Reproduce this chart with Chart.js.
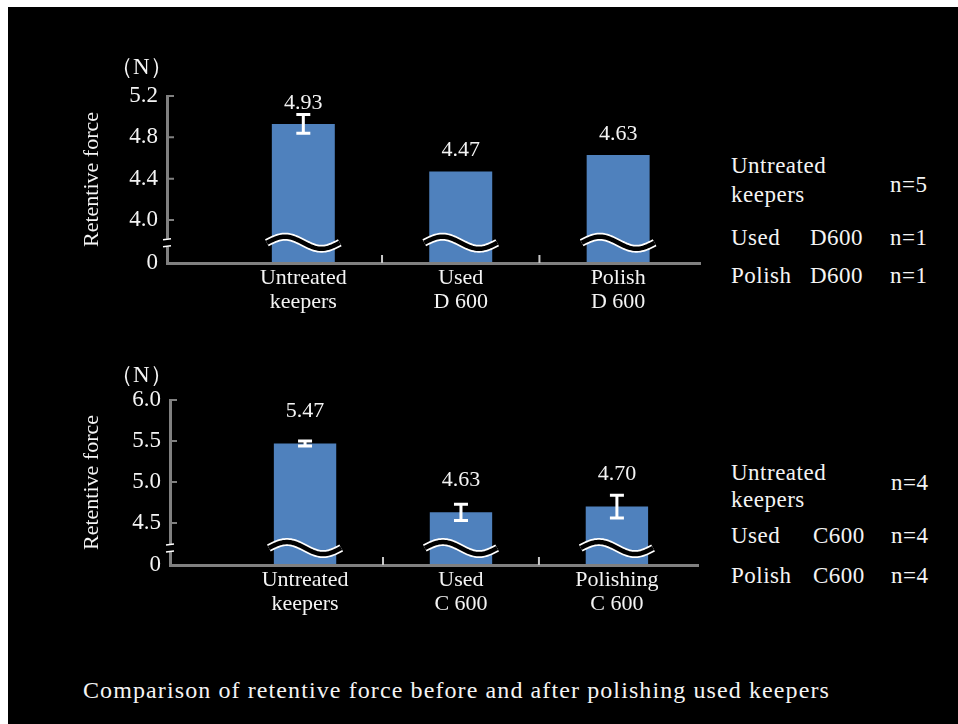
<!DOCTYPE html>
<html>
<head>
<meta charset="utf-8">
<script src="https://cdn.jsdelivr.net/npm/chart.js@4"></script>
<style>
  body { margin: 0; background: #fff; font-family: "Liberation Serif", serif; }
  #frame { position: absolute; left: 8px; top: 7px; width: 950px; height: 717px; background: #000; }
  canvas { position: absolute; left: 0; }
  .t { position: absolute; color: #f4f4f4; font-size: 23px; line-height: 24px; letter-spacing: 0.5px; white-space: nowrap; }
  .unit { font-size: 23px; letter-spacing: 0; }
  #caption { font-size: 24px; letter-spacing: 1.1px; }
</style>
</head>
<body>
<div id="frame"></div>
<canvas id="topChart" width="720" height="340" style="top:0"></canvas>
<canvas id="bottomChart" width="720" height="330" style="top:330px"></canvas>

<div class="t unit" style="left:110px; top:55px">（N）</div>
<div class="t unit" style="left:110px; top:363px">（N）</div>

<div class="t" style="left:731px; top:154px">Untreated</div>
<div class="t" style="left:731px; top:183px">keepers</div>
<div class="t" style="left:890px; top:173px">n=5</div>
<div class="t" style="left:731px; top:226px">Used</div>
<div class="t" style="left:810px; top:226px">D600</div>
<div class="t" style="left:890px; top:226px">n=1</div>
<div class="t" style="left:731px; top:264px">Polish</div>
<div class="t" style="left:810px; top:264px">D600</div>
<div class="t" style="left:890px; top:264px">n=1</div>

<div class="t" style="left:731px; top:461px">Untreated</div>
<div class="t" style="left:731px; top:488px">keepers</div>
<div class="t" style="left:891px; top:471px">n=4</div>
<div class="t" style="left:731px; top:524px">Used</div>
<div class="t" style="left:813px; top:524px">C600</div>
<div class="t" style="left:891px; top:524px">n=4</div>
<div class="t" style="left:731px; top:564px">Polish</div>
<div class="t" style="left:813px; top:564px">C600</div>
<div class="t" style="left:891px; top:564px">n=4</div>

<div class="t" id="caption" style="left:83px; top:678px">Comparison of retentive force before and after polishing used keepers</div>

<script>
// D600 keepers
const categoriesTop = [['Untreated', 'keepers'], ['Used', 'D 600'], ['Polish', 'D 600']];
const forceTop = [4.93, 4.47, 4.63];
const errorTop = [0.09, 0, 0];
const ticksTop = [4.0, 4.4, 4.8, 5.2];

// C600 keepers
const categoriesBottom = [['Untreated', 'keepers'], ['Used', 'C 600'], ['Polishing', 'C 600']];
const forceBottom = [5.47, 4.63, 4.70];
const errorBottom = [0.03, 0.10, 0.14];
const ticksBottom = [4.5, 5.0, 5.5, 6.0];

const TEXT = '#f4f4f4';
const AXIS = '#808080';
const BAR = '#4f81bd';
const SERIF = '"Liberation Serif", "Times New Roman", serif';

// wavy break across bars, error bars, value labels, inward ticks, axis break mark
const decor = {
  id: 'decor',
  afterDatasetsDraw(chart, args, opts) {
    const { ctx } = chart;
    const y = chart.scales.y;
    const values = chart.data.datasets[0].data;
    const cy = y.getPixelForValue(opts.breakAt);
    ctx.save();
    chart.getDatasetMeta(0).data.forEach((bar, i) => {
      const v = values[i].y;
      const half = bar.width / 2 + 5;
      const wave = () => {
        ctx.beginPath();
        for (let k = 0; k <= 50; k++) {
          const t = k / 50;
          const px = bar.x - half + 2 * half * t;
          const py = cy - 6 * Math.sin(2 * Math.PI * t);
          k === 0 ? ctx.moveTo(px, py) : ctx.lineTo(px, py);
        }
      };
      wave(); ctx.strokeStyle = '#fff'; ctx.lineWidth = 8; ctx.stroke();
      wave(); ctx.strokeStyle = '#000'; ctx.lineWidth = 4.5; ctx.stroke();

      const err = opts.errors[i];
      if (err > 0) {
        const top = y.getPixelForValue(v + err);
        const bot = y.getPixelForValue(v - err);
        ctx.strokeStyle = '#fff';
        ctx.lineWidth = 3;
        ctx.beginPath();
        ctx.moveTo(bar.x, top); ctx.lineTo(bar.x, bot);
        ctx.moveTo(bar.x - 7, top); ctx.lineTo(bar.x + 7, top);
        ctx.moveTo(bar.x - 7, bot); ctx.lineTo(bar.x + 7, bot);
        ctx.stroke();
      }

      ctx.fillStyle = TEXT;
      ctx.font = '22px ' + SERIF;
      ctx.textAlign = 'center';
      ctx.textBaseline = 'middle';
      ctx.fillText(v.toFixed(2), bar.x, bar.y - opts.labelGap);
    });
    ctx.restore();
  },
  afterDraw(chart, args, opts) {
    const { ctx, chartArea } = chart;
    const x = chart.scales.x, y = chart.scales.y;
    ctx.save();
    ctx.strokeStyle = AXIS;
    ctx.lineWidth = 2;
    ctx.beginPath();
    y.ticks.forEach(t => {
      if (t.value === y.min) return;
      const py = y.getPixelForValue(t.value);
      ctx.moveTo(chartArea.left, py); ctx.lineTo(chartArea.left + 7, py);
    });
    ctx.stroke();
    // small marks between the categories
    ctx.beginPath();
    for (let k = 1; k < x.ticks.length; k++) {
      const px = x.getPixelForValue(k + 0.5);
      ctx.moveTo(px, chartArea.bottom); ctx.lineTo(px, chartArea.bottom - 8);
    }
    ctx.strokeStyle = '#c8c8c8';
    ctx.stroke();

    const by = y.getPixelForValue(opts.breakAt);
    ctx.fillStyle = '#000';
    ctx.fillRect(chartArea.left - 4, by - 4, 8, 8);
    ctx.strokeStyle = '#fff';
    ctx.lineWidth = 1.5;
    ctx.beginPath();
    ctx.moveTo(chartArea.left - 4, by - 3); ctx.lineTo(chartArea.left + 4, by - 4);
    ctx.moveTo(chartArea.left - 4, by + 4); ctx.lineTo(chartArea.left + 4, by + 3);
    ctx.stroke();
    ctx.restore();
  }
};

function makeChart(id, categories, values, errors, ticks, cfg) {
  return new Chart(document.getElementById(id), {
    type: 'bar',
    data: {
      datasets: [{
        data: values.map((v, i) => ({ x: i + 1, y: v })),
        backgroundColor: BAR,
        borderWidth: 0,
        barPercentage: 0.4,
        categoryPercentage: 1
      }]
    },
    options: {
      responsive: false,
      animation: false,
      layout: { padding: { top: cfg.top, right: cfg.right, left: 0, bottom: 0 } },
      scales: {
        x: {
          type: 'linear',
          min: 0.134,
          max: 3.52,
          offset: false,
          grid: { display: false, drawTicks: false, offset: false },
          border: { display: true, color: AXIS, width: 3, z: 1 },
          afterBuildTicks: s => { s.ticks = categories.map((_, i) => ({ value: i + 1 })); },
          afterFit: s => { s.height = cfg.xHeight; },
          ticks: {
            color: TEXT,
            padding: 3,
            maxRotation: 0,
            autoSkip: false,
            font: { family: SERIF, size: 22, lineHeight: 1.1 },
            callback: v => categories[v - 1]
          }
        },
        y: {
          min: cfg.floor,
          max: ticks[ticks.length - 1],
          beginAtZero: false,
          grid: { display: false, drawTicks: false },
          border: { display: true, color: AXIS, width: 3, z: 1 },
          afterBuildTicks: s => { s.ticks = [cfg.floor, ...ticks].map(v => ({ value: v })); },
          afterFit: s => { s.width = cfg.yWidth; },
          ticks: {
            color: TEXT,
            padding: 9,
            font: { family: SERIF, size: 23 },
            callback: v => v === cfg.floor ? '0' : v.toFixed(1)
          },
          title: {
            display: true,
            text: 'Retentive force',
            color: TEXT,
            padding: { top: 79, bottom: 0 },
            font: { family: SERIF, size: 22, lineHeight: 1.2 }
          }
        }
      },
      plugins: {
        legend: { display: false },
        tooltip: { enabled: false },
        decor: { errors, breakAt: cfg.breakAt, labelGap: cfg.labelGap }
      }
    },
    plugins: [decor]
  });
}

makeChart('topChart', categoriesTop, forceTop, errorTop, ticksTop,
  { top: 96, right: 20, xHeight: 77, yWidth: 167, floor: 3.584, breakAt: 3.78, labelGap: 21 });
makeChart('bottomChart', categoriesBottom, forceBottom, errorBottom, ticksBottom,
  { top: 70, right: 22, xHeight: 95, yWidth: 170, floor: 3.988, breakAt: 4.195, labelGap: 32 });
</script>
</body>
</html>
